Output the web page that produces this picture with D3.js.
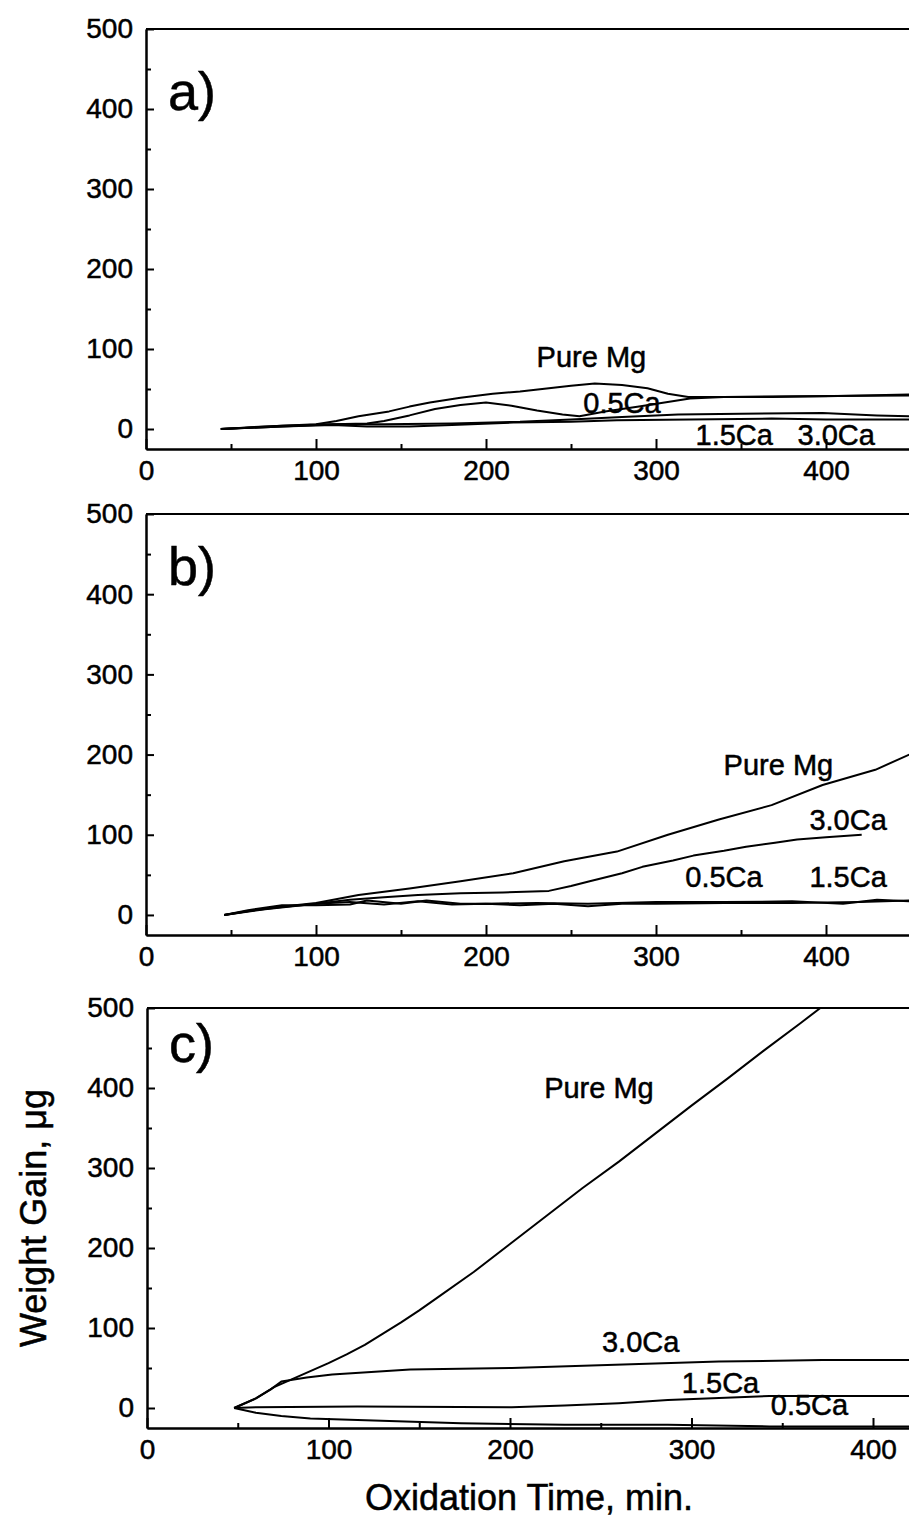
<!DOCTYPE html>
<html>
<head>
<meta charset="utf-8">
<script src="https://cdn.jsdelivr.net/npm/d3@7"></script>
<style>
  body { margin: 0; background: #fff; }
  text { font-family: "Liberation Sans", Arial, sans-serif; fill: #000; stroke: #000; stroke-width: 0.5px; }
</style>
</head>
<body>
<script>
// Tick values shared by all three panels
const xMajorTicks = [0, 100, 200, 300, 400];
const xMinorTicks = [50, 150, 250, 350];
const yMajorTicks = [0, 100, 200, 300, 400, 500];
const yMinorTicks = [50, 150, 250, 350, 450];

// Panel a) - [time (min), weight gain (ug)]
const aPureMg = [[44,0],[60,2],[80,4],[100,6],[112,10],[125,16],[143,22],[155,28],[167,33],[185,39],[204,44],[220,47],[237,51],[250,54],[264,57],[280,55],[295,51],[307,44],[319,40],[340,40],[368,40],[400,41],[449,43]];
const a05Ca = [[44,0],[80,3],[110,6],[130,7],[140,10],[155,17],[170,25],[185,30],[200,33],[215,29],[230,23],[245,18],[255,16],[270,22],[290,28],[305,33],[320,38],[340,40],[380,41],[449,42]];
const a15Ca = [[44,0],[80,3],[110,5],[130,3],[155,3],[180,5],[216,8],[250,9],[277,11],[320,12],[368,13],[400,12],[449,12]];
const a30Ca = [[44,0],[80,4],[110,6],[140,6],[180,7],[220,9],[250,12],[280,15],[313,18],[350,19],[398,20],[430,17],[449,16]];

// Panel b)
const bPureMg = [[46,0],[70,8],[100,15],[125,25],[155,33],[185,42],[216,52],[246,67],[277,79],[307,100],[337,119],[368,137],[398,162],[429,181],[449,200]];
const b30Ca = [[46,0],[70,7],[100,14],[120,19],[140,22],[160,25],[185,27],[210,28],[237,30],[250,36],[261,42],[280,52],[292,60],[310,68],[322,74],[340,80],[353,85],[370,90],[383,94],[400,97],[421,100]];
const b05Ca = [[46,0],[60,5],[80,10],[100,14],[120,16],[140,13],[160,17],[180,13],[200,14],[220,12],[240,14],[260,11],[280,14],[300,14],[340,15],[380,15],[420,16],[449,18]];
const b15Ca = [[46,0],[60,6],[80,12],[100,12],[120,13],[130,18],[150,14],[165,18],[185,14],[200,14],[230,15],[260,14],[300,16],[340,16],[380,17],[410,14],[430,19],[449,17]];

// Panel c)
const cPureMg = [[48,0],[60,12],[70,26],[80,36],[90,46],[100,56],[110,67],[120,79],[130,93],[140,107],[150,122],[160,138],[180,170],[200,205],[220,240],[240,275],[260,308],[280,343],[300,378],[320,412],[340,447],[360,481],[371,500]];
const c30Ca = [[48,0],[60,12],[68,23],[74,33],[88,38],[102,42],[145,48],[201,50],[258,54],[315,58],[372,60],[420,60]];
const c15Ca = [[48,0],[60,1],[116,2],[201,1],[230,3],[260,6],[287,10],[343,15],[420,15]];
const c05Ca = [[48,0],[60,-6],[74,-10],[90,-13],[116,-15],[173,-19],[230,-21],[287,-21],[343,-23],[420,-23]];

const width = 909, height = 1529;

const svg = d3.select("body")
    .append("svg")
    .attr("width", width)
    .attr("height", height);

// one stacked panel
function drawPanel(p) {
    const x = d3.scaleLinear().domain([0, p.xMax]).range([p.left, width]);
    const y = d3.scaleLinear().domain([-25, 500]).range([p.bottom, p.top]);

    const g = svg.append("g");

    g.append("clipPath").attr("id", "clip" + p.id)
      .append("rect")
        .attr("x", p.left).attr("y", p.top)
        .attr("width", width - p.left).attr("height", p.bottom - p.top);

    const line = d3.line().x(d => x(d[0])).y(d => y(d[1]));

    g.append("g")
        .attr("clip-path", "url(#clip" + p.id + ")")
      .selectAll("path")
      .data(p.series)
      .join("path")
        .attr("d", line)
        .attr("fill", "none")
        .attr("stroke", "#000")
        .attr("stroke-width", 2)
        .attr("stroke-linejoin", "round");

    // left axis, ticks pointing inwards
    g.append("g")
        .attr("transform", `translate(${p.left},0)`)
        .call(d3.axisLeft(y).tickValues(yMajorTicks).tickSize(-8).tickSizeOuter(0).tickPadding(13));
    g.append("g")
        .attr("transform", `translate(${p.left},0)`)
        .call(d3.axisLeft(y).tickValues(yMinorTicks).tickSize(-5).tickSizeOuter(0).tickFormat(""));

    // bottom axis
    g.append("g")
        .attr("transform", `translate(0,${p.bottom})`)
        .call(d3.axisBottom(x).tickValues(xMajorTicks).tickSize(-10).tickSizeOuter(0).tickPadding(11));
    g.append("g")
        .attr("transform", `translate(0,${p.bottom})`)
        .call(d3.axisBottom(x).tickValues(xMinorTicks).tickSize(-5).tickSizeOuter(0).tickFormat(""));

    g.selectAll(".domain, .tick line").attr("stroke", "#000").attr("stroke-width", 2);
    g.selectAll(".tick text").style("font-size", "28px");

    // top frame line
    g.append("line")
        .attr("x1", p.left).attr("x2", width)
        .attr("y1", y(500)).attr("y2", y(500))
        .attr("stroke", "#000").attr("stroke-width", 2);

    // panel letter
    g.append("text")
        .attr("x", p.left + 22)
        .attr("y", p.letterY)
        .style("font-size", "54px")
        .text(p.letter);

    // curve labels
    g.selectAll(".curve-label")
      .data(p.labels)
      .join("text")
        .attr("class", "curve-label")
        .attr("x", d => x(d.x))
        .attr("y", d => d.baseline)
        .attr("text-anchor", "middle")
        .style("font-size", "29px")
        .text(d => d.text);
}

drawPanel({
    id: "a", letter: "a)", top: 29, bottom: 449, left: 146, xMax: (909 - 146) / 1.7, letterY: 110,
    series: [aPureMg, a05Ca, a15Ca, a30Ca],
    labels: [
        {text: "Pure Mg", x: 262, baseline: 367},
        {text: "0.5Ca", x: 280, baseline: 413},
        {text: "1.5Ca", x: 346, baseline: 445},
        {text: "3.0Ca", x: 406, baseline: 445}
    ]
});

drawPanel({
    id: "b", letter: "b)", top: 514, bottom: 935, left: 146, xMax: (909 - 146) / 1.7, letterY: 585,
    series: [bPureMg, b30Ca, b05Ca, b15Ca],
    labels: [
        {text: "Pure Mg", x: 372, baseline: 775},
        {text: "3.0Ca", x: 413, baseline: 830},
        {text: "0.5Ca", x: 340, baseline: 887},
        {text: "1.5Ca", x: 413, baseline: 887}
    ]
});

drawPanel({
    id: "c", letter: "c)", top: 1008, bottom: 1428, left: 147, xMax: (909 - 147) / 1.815, letterY: 1062,
    series: [cPureMg, c30Ca, c15Ca, c05Ca],
    labels: [
        {text: "Pure Mg", x: 249, baseline: 1098},
        {text: "3.0Ca", x: 272, baseline: 1352},
        {text: "1.5Ca", x: 316, baseline: 1393},
        {text: "0.5Ca", x: 365, baseline: 1415}
    ]
});

// axis titles
svg.append("text")
    .attr("x", 529)
    .attr("y", 1510)
    .attr("text-anchor", "middle")
    .style("font-size", "36px")
    .text("Oxidation Time, min.");

svg.append("text")
    .attr("transform", "translate(46,1218) rotate(-90)")
    .attr("text-anchor", "middle")
    .style("font-size", "36px")
    .text("Weight Gain, μg");
</script>
</body>
</html>
